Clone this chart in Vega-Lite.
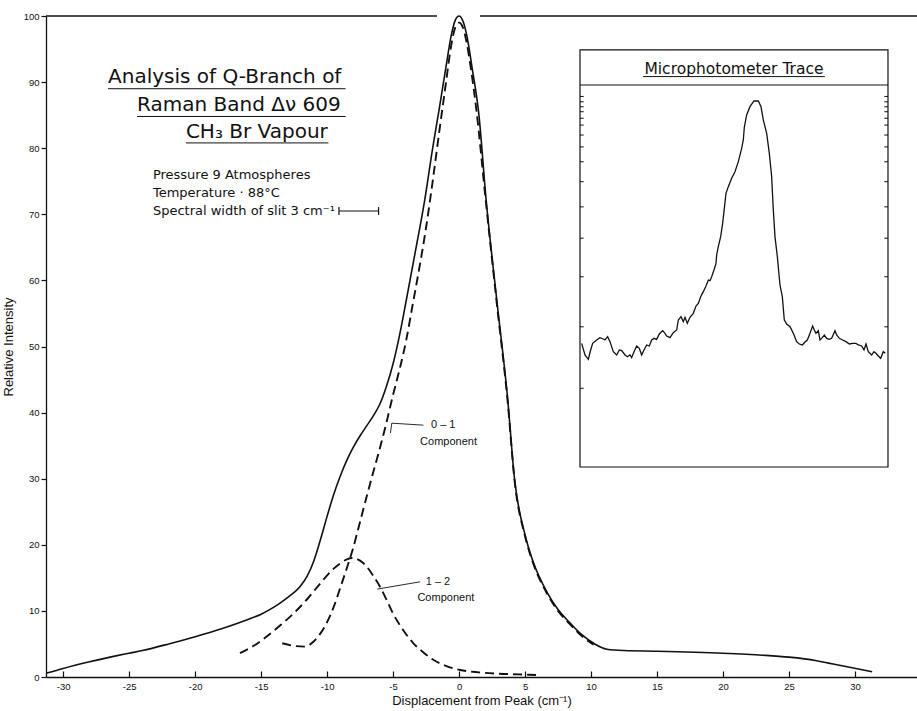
{
  "$schema": "https://vega.github.io/schema/vega-lite/v6.json",
  "width": 871,
  "height": 661,
  "autosize": {"type": "none"},
  "padding": {"left": 46, "top": 16, "right": 0, "bottom": 34},
  "background": "white",
  "config": {
    "view": {"stroke": null},
    "font": "Liberation Sans",
    "text": {"font": "DejaVu Sans", "color": "#111"},
    "rule": {"color": "#111"},
    "axis": {
      "grid": false,
      "domainColor": "#111",
      "domainWidth": 1.3,
      "tickColor": "#111",
      "tickWidth": 1.2,
      "labelColor": "#111",
      "titleColor": "#111",
      "labelFont": "Liberation Sans",
      "titleFont": "Liberation Sans",
      "titleFontWeight": "normal",
      "titleFontSize": 13,
      "labelFontSize": 9.5
    }
  },
  "datasets": {
    "total": [
      {"x": -31.25, "y": 0.6}, {"x": -30, "y": 1.3}, {"x": -28, "y": 2.3}, {"x": -26, "y": 3.2},
      {"x": -25, "y": 3.6}, {"x": -24, "y": 4.0}, {"x": -22, "y": 5.0}, {"x": -20, "y": 6.1},
      {"x": -18, "y": 7.3}, {"x": -16, "y": 8.7}, {"x": -15, "y": 9.5}, {"x": -14, "y": 10.6},
      {"x": -13, "y": 12.0}, {"x": -12, "y": 13.8}, {"x": -11.5, "y": 15.3}, {"x": -11, "y": 17.6},
      {"x": -10.5, "y": 20.8}, {"x": -10, "y": 24.3}, {"x": -9.5, "y": 27.6}, {"x": -9, "y": 30.4},
      {"x": -8.5, "y": 32.8}, {"x": -8, "y": 34.8}, {"x": -7.5, "y": 36.5}, {"x": -7, "y": 38.0},
      {"x": -6.5, "y": 39.5}, {"x": -6, "y": 41.3}, {"x": -5.5, "y": 44.0}, {"x": -5, "y": 47.4},
      {"x": -4.5, "y": 51.8}, {"x": -4, "y": 57}, {"x": -3.3, "y": 64.5}, {"x": -2.6, "y": 72.2},
      {"x": -2.0, "y": 80.0}, {"x": -1.5, "y": 86.0}, {"x": -1.0, "y": 92.2}, {"x": -0.6, "y": 97.0},
      {"x": -0.3, "y": 99.3}, {"x": 0, "y": 100}, {"x": 0.3, "y": 99.2}, {"x": 0.6, "y": 96.9},
      {"x": 1.0, "y": 92.0}, {"x": 1.49, "y": 85.3}, {"x": 2.05, "y": 72.2}, {"x": 2.86, "y": 57},
      {"x": 3.69, "y": 41.9}, {"x": 4.2, "y": 30}, {"x": 5, "y": 21.5}, {"x": 5.6, "y": 17.5},
      {"x": 6.7, "y": 12.7}, {"x": 7.5, "y": 10.2}, {"x": 8.4, "y": 8.2}, {"x": 9.3, "y": 6.4},
      {"x": 10.2, "y": 5.1}, {"x": 11.2, "y": 4.2}, {"x": 12.5, "y": 4.0}, {"x": 15, "y": 3.9},
      {"x": 20, "y": 3.6}, {"x": 23, "y": 3.3}, {"x": 25, "y": 3.0}, {"x": 27, "y": 2.5},
      {"x": 28, "y": 2.1}, {"x": 29.5, "y": 1.5}, {"x": 31.3, "y": 0.8}
    ],
    "comp01": [
      {"x": -13.4, "y": 5.1}, {"x": -12.5, "y": 4.7}, {"x": -11.7, "y": 4.6}, {"x": -11, "y": 5.4},
      {"x": -10.5, "y": 6.6}, {"x": -10, "y": 8.3}, {"x": -9.5, "y": 10.6}, {"x": -9, "y": 13.5},
      {"x": -8.5, "y": 16.5}, {"x": -8, "y": 19.7}, {"x": -7.5, "y": 23.5}, {"x": -7, "y": 27.3},
      {"x": -6.5, "y": 31.0}, {"x": -6, "y": 34.6}, {"x": -5.5, "y": 38.5}, {"x": -5, "y": 42.7},
      {"x": -4.5, "y": 46.6}, {"x": -4, "y": 51}, {"x": -3.5, "y": 56.5}, {"x": -3, "y": 62},
      {"x": -2.5, "y": 68}, {"x": -2.0, "y": 75}, {"x": -1.5, "y": 82.5}, {"x": -1.0, "y": 89.8},
      {"x": -0.6, "y": 95.5}, {"x": -0.3, "y": 98.2}, {"x": 0, "y": 99}, {"x": 0.3, "y": 98.2},
      {"x": 0.6, "y": 95.7}, {"x": 0.9, "y": 92.0}, {"x": 1.3, "y": 86.0}, {"x": 2.0, "y": 72.5},
      {"x": 2.86, "y": 56.5}, {"x": 3.69, "y": 41.5}, {"x": 4.2, "y": 29.8}, {"x": 5, "y": 21.3},
      {"x": 5.6, "y": 17.3}, {"x": 6.7, "y": 12.5}, {"x": 7.5, "y": 10.0}, {"x": 8.4, "y": 8.0},
      {"x": 9.3, "y": 6.2}, {"x": 10.2, "y": 4.9}
    ],
    "comp12": [
      {"x": -16.6, "y": 3.6}, {"x": -15.5, "y": 4.8}, {"x": -14.6, "y": 6.1}, {"x": -13.5, "y": 7.9},
      {"x": -12.55, "y": 9.6}, {"x": -11.5, "y": 11.8}, {"x": -10.5, "y": 14.2}, {"x": -9.5, "y": 16.4},
      {"x": -9, "y": 17.2}, {"x": -8.5, "y": 17.8}, {"x": -8.1, "y": 18.0}, {"x": -7.5, "y": 17.6},
      {"x": -7, "y": 16.7}, {"x": -6.5, "y": 15.3}, {"x": -6, "y": 13.7}, {"x": -5.5, "y": 11.7},
      {"x": -5, "y": 9.6}, {"x": -4.2, "y": 7.0}, {"x": -3.46, "y": 5.1}, {"x": -2.7, "y": 3.7},
      {"x": -1.95, "y": 2.6}, {"x": -1, "y": 1.7}, {"x": 0.08, "y": 1.06}, {"x": 1.5, "y": 0.7},
      {"x": 3, "y": 0.5}, {"x": 4.5, "y": 0.4}, {"x": 5.9, "y": 0.3}
    ],
    "trace": [
      {"pos": 0.54, "signal": 32.37}, {"pos": 1.62, "signal": 29.32}, {"pos": 2.71, "signal": 28.18},
      {"pos": 3.46, "signal": 30.63}, {"pos": 4.11, "signal": 32.37}, {"pos": 5.41, "signal": 33.25},
      {"pos": 6.49, "signal": 33.86}, {"pos": 7.58, "signal": 33.51}, {"pos": 8.12, "signal": 33.25},
      {"pos": 8.98, "signal": 34.12}, {"pos": 9.74, "signal": 32.81}, {"pos": 10.82, "signal": 30.19},
      {"pos": 11.9, "signal": 29.32}, {"pos": 12.77, "signal": 30.63}, {"pos": 13.53, "signal": 30.45},
      {"pos": 14.61, "signal": 29.32}, {"pos": 15.37, "signal": 28.88}, {"pos": 16.23, "signal": 29.32},
      {"pos": 16.77, "signal": 28.62}, {"pos": 17.53, "signal": 30.19}, {"pos": 18.4, "signal": 31.68},
      {"pos": 19.26, "signal": 31.06}, {"pos": 20.02, "signal": 29.32}, {"pos": 20.78, "signal": 30.63},
      {"pos": 21.65, "signal": 31.94}, {"pos": 22.51, "signal": 31.68}, {"pos": 23.27, "signal": 33.25},
      {"pos": 24.03, "signal": 33.68}, {"pos": 24.89, "signal": 33.42}, {"pos": 25.76, "signal": 34.82},
      {"pos": 26.84, "signal": 35.69}, {"pos": 27.6, "signal": 34.99}, {"pos": 28.14, "signal": 34.29},
      {"pos": 29.22, "signal": 33.86}, {"pos": 30.3, "signal": 35.17}, {"pos": 31.39, "signal": 35.86},
      {"pos": 31.93, "signal": 38.48}, {"pos": 32.79, "signal": 39.35}, {"pos": 33.55, "signal": 38.05},
      {"pos": 34.09, "signal": 39.18}, {"pos": 34.85, "signal": 37.61}, {"pos": 35.71, "signal": 39.18},
      {"pos": 36.8, "signal": 40.23}, {"pos": 37.66, "signal": 42.15}, {"pos": 38.42, "signal": 42.84},
      {"pos": 39.18, "signal": 44.59}, {"pos": 40.04, "signal": 45.9}, {"pos": 40.91, "signal": 47.38},
      {"pos": 41.67, "signal": 48.95}, {"pos": 42.21, "signal": 48.78}, {"pos": 42.75, "signal": 49.83},
      {"pos": 43.51, "signal": 51.57}, {"pos": 44.16, "signal": 53.32}, {"pos": 44.37, "signal": 55.5},
      {"pos": 44.91, "signal": 57.68}, {"pos": 45.67, "signal": 60.3}, {"pos": 46.32, "signal": 63.79},
      {"pos": 46.86, "signal": 67.71}, {"pos": 47.4, "signal": 71.64}, {"pos": 48.16, "signal": 73.39},
      {"pos": 49.24, "signal": 75.57}, {"pos": 50.32, "signal": 77.31}, {"pos": 51.41, "signal": 79.93},
      {"pos": 52.49, "signal": 83.42}, {"pos": 53.03, "signal": 85.6}, {"pos": 53.35, "signal": 88.92},
      {"pos": 54.11, "signal": 92.15}, {"pos": 55.19, "signal": 94.33}, {"pos": 56.49, "signal": 95.81},
      {"pos": 57.9, "signal": 95.81}, {"pos": 58.77, "signal": 94.33}, {"pos": 59.52, "signal": 90.84},
      {"pos": 60.61, "signal": 87.35}, {"pos": 61.47, "signal": 82.11}, {"pos": 62.23, "signal": 76.0},
      {"pos": 62.77, "signal": 67.28}, {"pos": 63.31, "signal": 60.3}, {"pos": 64.07, "signal": 55.06},
      {"pos": 64.94, "signal": 47.64}, {"pos": 65.69, "signal": 44.59}, {"pos": 66.34, "signal": 38.48},
      {"pos": 67.1, "signal": 37.43}, {"pos": 68.18, "signal": 36.74}, {"pos": 69.26, "signal": 35.0},
      {"pos": 70.35, "signal": 32.81}, {"pos": 71.21, "signal": 32.2}, {"pos": 72.19, "signal": 31.94},
      {"pos": 73.05, "signal": 32.72}, {"pos": 73.81, "signal": 33.25}, {"pos": 74.68, "signal": 34.99},
      {"pos": 75.54, "signal": 36.91}, {"pos": 76.08, "signal": 35.86}, {"pos": 76.62, "signal": 34.99},
      {"pos": 77.38, "signal": 35.69}, {"pos": 77.92, "signal": 33.25}, {"pos": 78.46, "signal": 33.68},
      {"pos": 79.33, "signal": 34.55}, {"pos": 80.09, "signal": 33.68}, {"pos": 80.95, "signal": 33.42},
      {"pos": 81.71, "signal": 33.68}, {"pos": 82.79, "signal": 35.69}, {"pos": 83.33, "signal": 34.55},
      {"pos": 84.2, "signal": 33.68}, {"pos": 85.28, "signal": 33.25}, {"pos": 86.36, "signal": 32.81},
      {"pos": 87.45, "signal": 32.2}, {"pos": 88.53, "signal": 32.37}, {"pos": 89.61, "signal": 32.37},
      {"pos": 90.37, "signal": 31.94}, {"pos": 91.45, "signal": 31.68}, {"pos": 92.21, "signal": 30.63},
      {"pos": 92.86, "signal": 32.2}, {"pos": 93.61, "signal": 30.19}, {"pos": 94.7, "signal": 29.32},
      {"pos": 95.45, "signal": 30.19}, {"pos": 96.1, "signal": 29.76}, {"pos": 96.86, "signal": 29.06},
      {"pos": 97.62, "signal": 28.45}, {"pos": 98.48, "signal": 30.19}, {"pos": 99.13, "signal": 29.76}
    ],
    "insetTicks": [
      {"level": 97.0}, {"level": 95.6}, {"level": 94.3}, {"level": 93.0}, {"level": 91.3},
      {"level": 89.5}, {"level": 86.9}, {"level": 83.8}, {"level": 79.9}, {"level": 74.7},
      {"level": 68.1}, {"level": 59.9}, {"level": 49.8}, {"level": 36.7}, {"level": 20.6}
    ]
  },
  "layer": [
    {
      "data": {"values": [{}]},
      "layer": [
        {
          "data": {"name": "total"},
          "mark": {"type": "line", "interpolate": "monotone", "color": "#111", "strokeWidth": 1.6},
          "encoding": {
            "x": {
              "field": "x", "type": "quantitative",
              "scale": {"domain": [-31.3, 34.7], "nice": false, "zero": false},
              "axis": {
                "values": [-30, -25, -20, -15, -10, -5, 0, 5, 10, 15, 20, 25, 30],
                "labelExpr": "'' + datum.value",
                "tickSize": -6,
                "labelPadding": 10,
                "title": "Displacement from Peak (cm⁻¹)",
                "titlePadding": 4
              }
            },
            "y": {
              "field": "y", "type": "quantitative",
              "scale": {"domain": [0, 100], "nice": false, "zero": false},
              "axis": {
                "values": [0, 10, 20, 30, 40, 50, 60, 70, 80, 90, 100],
                "tickSize": 5,
                "labelPadding": 2,
                "title": "Relative Intensity",
                "titlePadding": 8
              }
            }
          }
        },
        {
          "data": {"name": "comp01"},
          "mark": {"type": "line", "interpolate": "monotone", "color": "#111", "strokeWidth": 1.9, "strokeDash": [9, 5]},
          "encoding": {"x": {"field": "x", "type": "quantitative"}, "y": {"field": "y", "type": "quantitative"}}
        },
        {
          "data": {"name": "comp12"},
          "mark": {"type": "line", "interpolate": "monotone", "color": "#111", "strokeWidth": 1.9, "strokeDash": [9, 5]},
          "encoding": {"x": {"field": "x", "type": "quantitative"}, "y": {"field": "y", "type": "quantitative"}}
        },
        {
          "mark": {"type": "rule", "strokeWidth": 1.3},
          "encoding": {"x": {"datum": -31.3}, "x2": {"datum": -1.67}, "y": {"datum": 100}}
        },
        {
          "mark": {"type": "rule", "strokeWidth": 1.3},
          "encoding": {"x": {"datum": 1.59}, "x2": {"datum": 34.7}, "y": {"datum": 100}}
        },
        {
          "mark": {"type": "text", "text": "Analysis  of  Q-Branch  of", "align": "left", "baseline": "alphabetic", "fontSize": 20},
          "encoding": {"x": {"datum": -26.6}, "y": {"datum": 89.9}}
        },
        {
          "mark": {"type": "rule", "strokeWidth": 1},
          "encoding": {"x": {"datum": -26.6}, "x2": {"datum": -8.6}, "y": {"datum": 89.0}}
        },
        {
          "mark": {"type": "text", "text": "Raman Band Δν 609", "align": "left", "baseline": "alphabetic", "fontSize": 20},
          "encoding": {"x": {"datum": -24.4}, "y": {"datum": 85.6}}
        },
        {
          "mark": {"type": "rule", "strokeWidth": 1},
          "encoding": {"x": {"datum": -24.4}, "x2": {"datum": -8.6}, "y": {"datum": 84.8}}
        },
        {
          "mark": {"type": "text", "text": "CH₃ Br Vapour", "align": "left", "baseline": "alphabetic", "fontSize": 20},
          "encoding": {"x": {"datum": -20.7}, "y": {"datum": 81.6}}
        },
        {
          "mark": {"type": "rule", "strokeWidth": 1},
          "encoding": {"x": {"datum": -20.7}, "x2": {"datum": -9.9}, "y": {"datum": 80.8}}
        },
        {
          "mark": {"type": "text", "text": "Pressure  9 Atmospheres", "align": "left", "baseline": "middle", "fontSize": 13},
          "encoding": {"x": {"datum": -23.2}, "y": {"datum": 75.9}}
        },
        {
          "mark": {"type": "text", "text": "Temperature · 88°C", "align": "left", "baseline": "middle", "fontSize": 13},
          "encoding": {"x": {"datum": -23.2}, "y": {"datum": 73.2}}
        },
        {
          "mark": {"type": "text", "text": "Spectral width of slit 3 cm⁻¹", "align": "left", "baseline": "middle", "fontSize": 13},
          "encoding": {"x": {"datum": -23.2}, "y": {"datum": 70.5}}
        },
        {
          "mark": {"type": "rule", "strokeWidth": 1.2},
          "encoding": {"x": {"datum": -9.1}, "x2": {"datum": -6.1}, "y": {"datum": 70.5}}
        },
        {
          "mark": {"type": "rule", "strokeWidth": 1.2},
          "encoding": {"x": {"datum": -9.1}, "y": {"datum": 69.9}, "y2": {"datum": 71.1}}
        },
        {
          "mark": {"type": "rule", "strokeWidth": 1.2},
          "encoding": {"x": {"datum": -6.1}, "y": {"datum": 69.9}, "y2": {"datum": 71.1}}
        },
        {
          "mark": {"type": "text", "text": "0 – 1", "align": "center", "baseline": "middle", "fontSize": 11, "font": "Liberation Sans"},
          "encoding": {"x": {"datum": -1.2}, "y": {"datum": 38.1}}
        },
        {
          "mark": {"type": "text", "text": "Component", "align": "center", "baseline": "middle", "fontSize": 11, "font": "Liberation Sans"},
          "encoding": {"x": {"datum": -0.8}, "y": {"datum": 35.6}}
        },
        {
          "mark": {"type": "text", "text": "1 – 2", "align": "center", "baseline": "middle", "fontSize": 11, "font": "Liberation Sans"},
          "encoding": {"x": {"datum": -1.6}, "y": {"datum": 14.4}}
        },
        {
          "mark": {"type": "text", "text": "Component", "align": "center", "baseline": "middle", "fontSize": 11, "font": "Liberation Sans"},
          "encoding": {"x": {"datum": -1.0}, "y": {"datum": 12.0}}
        },
        {
          "mark": {"type": "rule", "strokeWidth": 0.9},
          "encoding": {"x": {"datum": -5.1}, "x2": {"datum": -2.7}, "y": {"datum": 38.4}, "y2": {"datum": 38.1}}
        },
        {
          "mark": {"type": "rule", "strokeWidth": 0.9},
          "encoding": {"x": {"datum": -5.1}, "x2": {"datum": -5.2}, "y": {"datum": 38.4}, "y2": {"datum": 36.9}}
        },
        {
          "mark": {"type": "rule", "strokeWidth": 0.9},
          "encoding": {"x": {"datum": -6.2}, "x2": {"datum": -2.95}, "y": {"datum": 13.3}, "y2": {"datum": 14.4}}
        }
      ]
    },
    {
      "data": {"values": [{}]},
      "layer": [
        {
          "data": {"name": "trace"},
          "mark": {"type": "line", "color": "#111", "strokeWidth": 1.3},
          "encoding": {
            "x": {"field": "pos", "type": "quantitative", "scale": {"domain": [-173.38, 109.42], "nice": false, "zero": false}, "axis": null},
            "y": {"field": "signal", "type": "quantitative", "scale": {"domain": [-54.97, 118.06], "nice": false, "zero": false}, "axis": null}
          }
        },
        {
          "mark": {"type": "rect", "fill": "transparent", "stroke": "#111", "strokeWidth": 1.2},
          "encoding": {"x": {"datum": 0}, "x2": {"datum": 100}, "y": {"datum": 0}, "y2": {"datum": 109.2}}
        },
        {
          "mark": {"type": "rule", "strokeWidth": 1.2},
          "encoding": {"x": {"datum": 0}, "x2": {"datum": 100}, "y": {"datum": 100}}
        },
        {
          "mark": {"type": "text", "text": "Microphotometer  Trace", "align": "center", "baseline": "alphabetic", "fontSize": 15.5},
          "encoding": {"x": {"datum": 50}, "y": {"datum": 102.9}}
        },
        {
          "mark": {"type": "rule", "strokeWidth": 1},
          "encoding": {"x": {"datum": 20.5}, "x2": {"datum": 79.5}, "y": {"datum": 102.2}}
        },
        {
          "data": {"name": "insetTicks"},
          "mark": {"type": "rule", "strokeWidth": 1},
          "encoding": {"x": {"datum": 0}, "x2": {"datum": 1.2}, "y": {"field": "level", "type": "quantitative"}}
        },
        {
          "data": {"name": "insetTicks"},
          "mark": {"type": "rule", "strokeWidth": 1},
          "encoding": {"x": {"datum": 98.8}, "x2": {"datum": 100}, "y": {"field": "level", "type": "quantitative"}}
        }
      ]
    }
  ],
  "resolve": {"scale": {"x": "independent", "y": "independent"}}
}
